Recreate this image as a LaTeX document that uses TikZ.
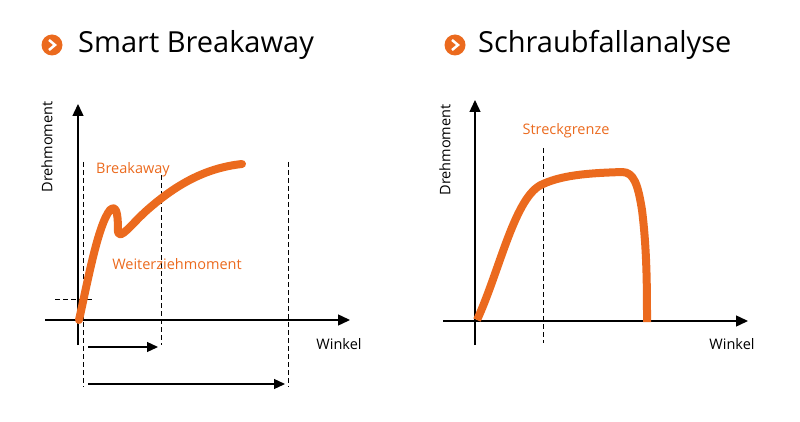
\documentclass[tikz,border=0pt]{standalone}
\usepackage{fontspec}
\setmainfont{Open Sans}
\usetikzlibrary{arrows.meta}
\definecolor{org}{HTML}{EB6A1E}
\begin{document}
\begin{tikzpicture}[x=1pt,y=-1pt,
  axis/.style={line width=1.4pt,-{Triangle[length=12pt,width=11pt]}},
  dsh/.style={dash pattern=on 5pt off 3pt,line width=0.8pt},
  arr/.style={line width=1.3pt,-{Triangle[length=11pt,width=10pt]}},
  curve/.style={org,line width=8pt,line cap=round,line join=round},
  lbl/.style={font=\fontsize{14.5}{16}\selectfont,inner sep=0pt},
  olbl/.style={lbl,text=org},
  title/.style={font=\fontsize{29}{32}\selectfont,anchor=west,inner sep=0pt},
  bullet/.style={circle,fill=org,minimum size=21pt,inner sep=0pt}]
\useasboundingbox (0,0) rectangle (800,422);
% titles
\node[bullet] (b1) at (52,45) {};
\draw[white,line width=2.5pt] ([shift={(-3,-5)}]b1.center) -- ([shift={(3,0)}]b1.center) -- ([shift={(-3,5)}]b1.center);
\node[title] (t1) at (78,45) {Smart Breakaway};
\node[bullet] (b2) at (455,45) {};
\draw[white,line width=2.5pt] ([shift={(-3,-5)}]b2.center) -- ([shift={(3,0)}]b2.center) -- ([shift={(-3,5)}]b2.center);
\node[title] (t2) at (478,45) {Schraubfallanalyse};
% left chart
\coordinate (ly0) at (78,345); \coordinate (ly1) at (78,104);
\coordinate (lx0) at (45,320); \coordinate (lx1) at (350,320);
\draw[axis] (ly0) -- (ly1);
\draw[axis] (lx0) -- (lx1);
\coordinate (d1a) at (83,162); \coordinate (d1b) at (83,387);
\coordinate (d2a) at (161,175); \coordinate (d2b) at (161,345);
\coordinate (d3a) at (288,162); \coordinate (d3b) at (288,387);
\coordinate (h1) at (55,299); \coordinate (h2) at (93,299);
\draw[dsh] (d1a) -- (d1b);
\draw[dsh] (d2a) -- (d2b);
\draw[dsh] (d3a) -- (d3b);
\draw[dsh] (h1) -- (h2);
\coordinate (a1) at (88,347); \coordinate (a2) at (158,347);
\coordinate (a3) at (88,384); \coordinate (a4) at (285,384);
\draw[arr] (a1) -- (a2);
\draw[arr] (a3) -- (a4);
\draw[curve] (79,320) .. controls (88,280) and (98,225) .. (110,210)
  .. controls (118,202) and (118,222) .. (118,232)
  .. controls (120,240) and (130,226) .. (145,212)
  .. controls (175,185) and (205,168) .. (242,164);
\node[olbl] (bk) at (133,170) {Breakaway};
\node[olbl] (wz) at (177,264) {Weiterziehmoment};
\node[lbl] (w1) at (339,344) {Winkel};
\node[lbl,rotate=90] (dm1) at (47,147) {Drehmoment};
% right chart
\coordinate (ry0) at (475,345); \coordinate (ry1) at (475,100);
\coordinate (rx0) at (443,321); \coordinate (rx1) at (748,321);
\draw[axis] (ry0) -- (ry1);
\draw[axis] (rx0) -- (rx1);
\coordinate (s1) at (543,148); \coordinate (s2) at (543,343);
\draw[dsh] (s1) -- (s2);
\draw[curve,line cap=butt] (477,320) .. controls (500,270) and (515,195) .. (543,184)
  .. controls (565,174) and (595,173) .. (622,172)
  .. controls (634,172) and (638,185) .. (642,210)
  .. controls (647,250) and (647,290) .. (647,322);
\node[olbl] (sg) at (566,131) {Streckgrenze};
\node[lbl] (w2) at (732,344) {Winkel};
\node[lbl,rotate=90] (dm2) at (445,150) {Drehmoment};
\end{tikzpicture}
\end{document}
